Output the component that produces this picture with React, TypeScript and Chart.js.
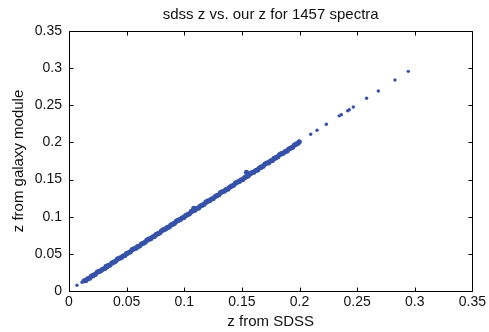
import React, { useEffect, useRef } from "react";
import { Chart, registerables } from "chart.js";

Chart.register(...registerables);

const TITLE = "sdss z vs. our z for 1457 spectra";
const X_LABEL = "z from SDSS";
const Y_LABEL = "z from galaxy module";
const TICK_VALUES = [0, 0.05, 0.1, 0.15, 0.2, 0.25, 0.3, 0.35];
const TICK_LABELS = ["0", "0.05", "0.1", "0.15", "0.2", "0.25", "0.3", "0.35"];

const sdssZ = [
  0.0069, 0.0113, 0.0132, 0.0146, 0.0163, 0.0178, 0.0196, 0.021, 0.0227, 0.0244,
  0.0258, 0.0275, 0.0291, 0.0309, 0.0322, 0.0327, 0.034, 0.0355, 0.0372, 0.0388,
  0.0403, 0.042, 0.0435, 0.0451, 0.0468, 0.0484, 0.0499, 0.0515, 0.0532, 0.0548,
  0.0563, 0.058, 0.0595, 0.0612, 0.0628, 0.0643, 0.066, 0.0676, 0.0691, 0.0708,
  0.0724, 0.074, 0.0755, 0.0772, 0.0788, 0.0803, 0.082, 0.0836, 0.0851, 0.0868,
  0.0884, 0.09, 0.0915, 0.0932, 0.0948, 0.0963, 0.098, 0.0996, 0.1012, 0.1027,
  0.1044, 0.106, 0.1076, 0.1083, 0.1091, 0.1108, 0.1124, 0.1139, 0.1156, 0.1172,
  0.1188, 0.1203, 0.122, 0.1236, 0.1251, 0.1268, 0.1284, 0.13, 0.1315, 0.1332,
  0.1348, 0.1363, 0.138, 0.1396, 0.1412, 0.1427, 0.1444, 0.146, 0.1476, 0.1491,
  0.1508, 0.1524, 0.154, 0.154, 0.1555, 0.1572, 0.1588, 0.1603, 0.162, 0.1636,
  0.1652, 0.1667, 0.1684, 0.17, 0.1716, 0.1731, 0.1748, 0.1764, 0.178, 0.1795,
  0.1812, 0.1828, 0.1843, 0.186, 0.1876, 0.1892, 0.1907, 0.1924, 0.194, 0.1956,
  0.1971, 0.1986, 0.1998,
  0.2097, 0.2152, 0.2233, 0.2345, 0.2363, 0.2418, 0.2432, 0.2467, 0.2582, 0.2684,
  0.2828, 0.2944,
];

const galaxyZ = [
  0.0077, 0.0117, 0.0138, 0.0143, 0.0165, 0.0172, 0.02, 0.021, 0.0223, 0.0252,
  0.0264, 0.0272, 0.0293, 0.0303, 0.0331, 0.0322, 0.0342, 0.0349, 0.0376, 0.0388,
  0.0399, 0.0428, 0.0441, 0.0448, 0.047, 0.0478, 0.0503, 0.0515, 0.0528, 0.0556,
  0.0569, 0.0577, 0.0597, 0.0606, 0.0632, 0.0643, 0.0656, 0.0684, 0.0697, 0.0705,
  0.0726, 0.0734, 0.0759, 0.0772, 0.0784, 0.0811, 0.0826, 0.0833, 0.0853, 0.0862,
  0.0888, 0.09, 0.0911, 0.094, 0.0954, 0.096, 0.0982, 0.099, 0.1016, 0.1027,
  0.104, 0.1068, 0.1082, 0.1112, 0.1088, 0.111, 0.1118, 0.1143, 0.1156, 0.1168,
  0.1196, 0.1209, 0.1217, 0.1238, 0.1245, 0.1272, 0.1284, 0.1296, 0.1323, 0.1338,
  0.1345, 0.1365, 0.1374, 0.14, 0.1412, 0.1423, 0.1452, 0.1466, 0.1473, 0.1493,
  0.1502, 0.1528, 0.154, 0.1598, 0.1551, 0.158, 0.1594, 0.16, 0.1622, 0.163,
  0.1656, 0.1667, 0.168, 0.1708, 0.1722, 0.1728, 0.175, 0.1758, 0.1784, 0.1795,
  0.1808, 0.1836, 0.1849, 0.1857, 0.1878, 0.1886, 0.1911, 0.1924, 0.1936, 0.1964,
  0.1977, 0.1989, 0.2008,
  0.211, 0.2163, 0.2244, 0.2358, 0.2373, 0.2427, 0.244, 0.2477, 0.2594, 0.2692,
  0.284, 0.2957,
];

const FONT = "'Liberation Sans', Arial, Helvetica, sans-serif";
const TEXT_COLOR = "#111";
const POINT_COLOR = "#3652a8";

const framePlugin = {
  id: "frame",
  afterDraw(chart: any) {
    const { ctx, chartArea: a, scales } = chart;
    ctx.save();
    ctx.strokeStyle = "#000";
    ctx.lineWidth = 1;
    const L = Math.round(a.left) + 0.5;
    const R = Math.round(a.right) + 0.5;
    const T = Math.round(a.top) + 0.5;
    const B = Math.round(a.bottom) + 0.5;
    ctx.beginPath();
    ctx.rect(L, T, R - L, B - T);
    const tl = 4;
    for (const v of TICK_VALUES) {
      const x = Math.round(scales.x.getPixelForValue(v)) + 0.5;
      ctx.moveTo(x, B);
      ctx.lineTo(x, B - tl);
      ctx.moveTo(x, T);
      ctx.lineTo(x, T + tl);
      const y = Math.round(scales.y.getPixelForValue(v)) + 0.5;
      ctx.moveTo(L, y);
      ctx.lineTo(L + tl, y);
      ctx.moveTo(R, y);
      ctx.lineTo(R - tl, y);
    }
    ctx.stroke();
    ctx.fillStyle = TEXT_COLOR;
    ctx.font = `15px ${FONT}`;
    ctx.textAlign = "center";
    ctx.textBaseline = "middle";
    ctx.fillText(TITLE, (a.left + a.right) / 2, 15);
    ctx.restore();
  },
};

export default function App() {
  const ref = useRef<HTMLCanvasElement | null>(null);

  useEffect(() => {
    if (!ref.current) return;
    const points = sdssZ.map((x, i) => ({ x, y: galaxyZ[i] }));
    const fixTicks = (scale: any) => {
      scale.ticks = TICK_VALUES.map((value) => ({ value }));
    };
    const chart = new Chart(ref.current, {
      type: "scatter",
      data: {
        datasets: [
          {
            data: points,
            backgroundColor: POINT_COLOR,
            borderWidth: 0,
            pointRadius: (c: any) =>
              c.raw && (c.raw.x > 0.2 || c.raw.x < 0.012) ? 1.7 : 2.6,
            pointHoverRadius: 2,
          },
        ],
      },
      options: {
        responsive: false,
        animation: false,
        events: [],
        layout: { padding: { top: 31, right: 16, bottom: 0, left: 0 } },
        plugins: {
          legend: { display: false },
          tooltip: { enabled: false },
          title: { display: false },
        },
        scales: {
          x: {
            type: "linear",
            min: 0,
            max: 0.35,
            grid: { display: false, drawTicks: false },
            border: { display: false },
            afterBuildTicks: fixTicks,
            afterFit: (s: any) => {
              s.height = 41;
            },
            ticks: {
              autoSkip: false,
              maxRotation: 0,
              padding: 3,
              color: TEXT_COLOR,
              font: { family: FONT, size: 14 },
              callback: (_v: any, i: number) => TICK_LABELS[i],
            },
            title: {
              display: true,
              text: X_LABEL,
              color: TEXT_COLOR,
              font: { family: FONT, size: 15 },
              padding: { top: 0, bottom: 1 },
            },
          },
          y: {
            type: "linear",
            min: 0,
            max: 0.35,
            grid: { display: false, drawTicks: false },
            border: { display: false },
            afterBuildTicks: fixTicks,
            afterFit: (s: any) => {
              s.width = 69;
            },
            ticks: {
              autoSkip: false,
              padding: 7,
              color: TEXT_COLOR,
              font: { family: FONT, size: 14 },
              callback: (_v: any, i: number) => TICK_LABELS[i],
            },
            title: {
              display: true,
              text: Y_LABEL,
              color: TEXT_COLOR,
              font: { family: FONT, size: 15 },
              padding: { top: 10, bottom: 0 },
            },
          },
        },
      },
      plugins: [framePlugin],
    } as any);
    return () => chart.destroy();
  }, []);

  return (
    <div style={{ position: "fixed", left: 0, top: 0, width: 489, height: 332, background: "#fff" }}>
      <canvas ref={ref} width={489} height={332} style={{ width: 489, height: 332, display: "block" }} />
    </div>
  );
}
